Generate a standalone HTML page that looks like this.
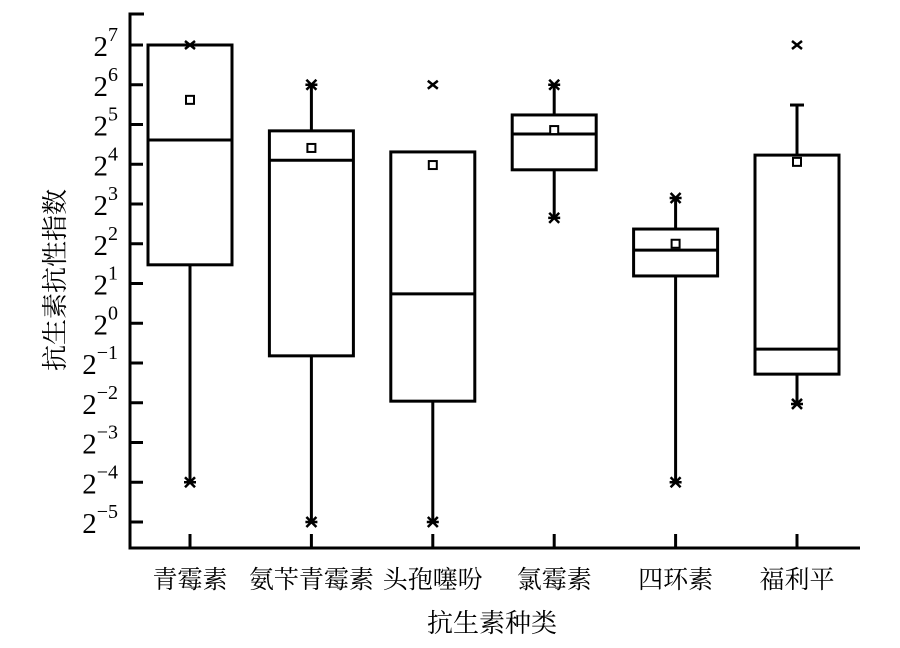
<!DOCTYPE html>
<html><head><meta charset="utf-8"><style>
body{margin:0;background:#fff}
svg{display:block}
text{font-family:"Liberation Serif","Noto Serif CJK SC",serif;fill:#000}
</style></head><body>
<svg id="chart" width="900" height="648"></svg>
<script>
const categories=["青霉素","氨苄青霉素","头孢噻吩","氯霉素","四环素","福利平"];
const q3Values=[7,4.84,4.31,5.24,2.37,4.23];
const medianValues=[4.61,4.1,0.74,4.76,1.84,-0.65];
const q1Values=[1.47,-0.82,-1.96,3.86,1.19,-1.28];
const maxValues=[7,6,4.31,6,3.15,5.49];
const minValues=[-4,-5,-5,2.65,-4,-2.03];
const meanValues=[5.62,4.41,3.98,4.86,2.0,4.06];
const outlierValues=[7,null,6,null,null,7];
const maxMarkers=["none","star","none","star","star","cap"];
const yTicks=[7,6,5,4,3,2,1,0,-1,-2,-3,-4,-5];

const NS="http://www.w3.org/2000/svg";
const svg=document.getElementById('chart');
const X0=130,X1=860,YB=548,YT=14;
const y=v=>45+(7-v)*39.75;
const x=i=>190+i*121.4;
const HW=42;
function mk(t,a,p){const e=document.createElementNS(NS,t);for(const k in a)e.setAttribute(k,a[k]);(p||svg).appendChild(e);return e;}
const S={stroke:"#000","stroke-width":3,fill:"none"};

const ax=mk('path',Object.assign({d:`M${X0+14},${YT}H${X0}V${YB}H${X1}`},S));



yTicks.forEach(v=>{
  const g=mk('g',{});
  
  
  mk('line',Object.assign({x1:X0,x2:X0+13,y1:y(v),y2:y(v)},S),g);
  const t=mk('text',{x:X0-12,y:y(v)+11,'text-anchor':'end','font-size':29},g);
  t.textContent='2';
  const s=mk('tspan',{dy:-15,'font-size':20},t);
  s.textContent=v<0?'−'+(-v):String(v);
});

function star(cx,cy,p){mk('path',{d:`M${cx-6},${cy}H${cx+6}M${cx-5},${cy-5}L${cx+5},${cy+5}M${cx-5},${cy+5}L${cx+5},${cy-5}`,stroke:"#000","stroke-width":2.5,fill:"none"},p);}
function cross(cx,cy,p){mk('path',{d:`M${cx-5},${cy-4}L${cx+5},${cy+4}M${cx-5},${cy+4}L${cx+5},${cy-4}`,stroke:"#000","stroke-width":2.5,fill:"none"},p);}

categories.forEach((c,i)=>{
  const cx=x(i);
  const g=mk('g',{});
  
  
  mk('line',Object.assign({x1:cx,x2:cx,y1:YB,y2:YB-14},S),g);
  mk('line',Object.assign({x1:cx,x2:cx,y1:y(q1Values[i]),y2:y(minValues[i])},S),g);
  if(maxValues[i]>q3Values[i]) mk('line',Object.assign({x1:cx,x2:cx,y1:y(q3Values[i]),y2:y(maxValues[i])},S),g);
  mk('rect',Object.assign({x:cx-HW,y:y(q3Values[i]),width:2*HW,height:y(q1Values[i])-y(q3Values[i])},S,{fill:"#fff"}),g);
  mk('line',Object.assign({x1:cx-HW,x2:cx+HW,y1:y(medianValues[i]),y2:y(medianValues[i])},S),g);
  star(cx,y(minValues[i]),g);
  if(maxMarkers[i]==='star') star(cx,y(maxValues[i]),g);
  if(maxMarkers[i]==='cap') mk('line',Object.assign({x1:cx-7,x2:cx+7,y1:y(maxValues[i]),y2:y(maxValues[i])},S),g);
  if(outlierValues[i]!==null) cross(cx,y(outlierValues[i]),g);
  mk('rect',{x:cx-4,y:y(meanValues[i])-4,width:8,height:8,fill:"#fff",stroke:"#000","stroke-width":2},g);
  const t=mk('text',{x:cx,y:588,'text-anchor':'middle','font-size':25});
  t.textContent=c;
  
  
});
</script>
<svg width="900" height="648" style="position:absolute;left:0;top:0;pointer-events:none">
<text x="492" y="632" text-anchor="middle" font-size="26" style="font-family:'Liberation Serif','Noto Serif CJK SC',serif">抗生素种类</text>
<text transform="translate(64,280) rotate(-90)" text-anchor="middle" font-size="26" style="font-family:'Liberation Serif','Noto Serif CJK SC',serif">抗生素抗性指数</text>
</svg>
</body></html>
